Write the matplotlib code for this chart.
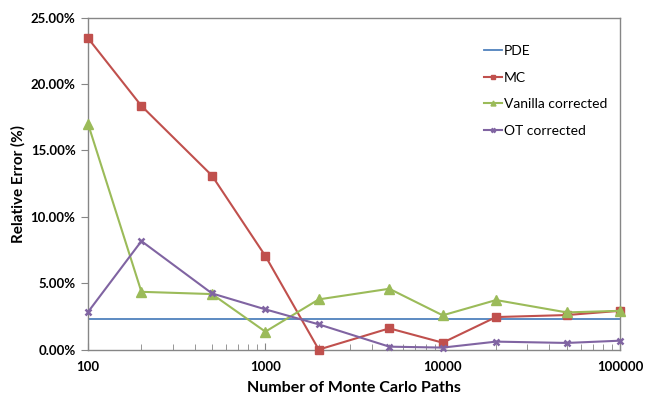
import matplotlib
matplotlib.use("Agg")
import matplotlib.pyplot as plt
from matplotlib.ticker import FuncFormatter, LogLocator, NullFormatter, FixedLocator

plt.rcParams['font.family'] = ['Lato', 'DejaVu Sans']

paths = [100, 200, 500, 1000, 2000, 5000, 10000, 20000, 50000, 100000]
pde = [2.32] * len(paths)
mc = [23.45, 18.35, 13.1, 7.05, 0.0, 1.6, 0.52, 2.45, 2.6, 2.92]
vanilla = [17.0, 4.35, 4.18, 1.35, 3.78, 4.58, 2.58, 3.73, 2.8, 2.92]
ot = [2.83, 8.17, 4.23, 3.03, 1.9, 0.22, 0.15, 0.6, 0.5, 0.67]

labels = ["PDE", "MC", "Vanilla corrected", "OT corrected"]
colors = ["#4F81BD", "#C0504D", "#9BBB59", "#8064A2"]

fig = plt.figure(figsize=(6.53, 3.96), dpi=100)
ax = fig.add_axes([0.1348, 0.1172, 0.8147, 0.8384])

ax.plot(paths, pde, color=colors[0], lw=1.3, label=labels[0], zorder=2)
ax.plot(paths, mc, color=colors[1], lw=1.5, marker='s', ms=6, label=labels[1],
        clip_on=False, zorder=3)
ax.plot(paths, vanilla, color=colors[2], lw=1.5, marker='^', ms=6.5, label=labels[2],
        clip_on=False, zorder=3)
ax.plot(paths, ot, color=colors[3], lw=1.5, marker='x', ms=5, mew=1.8, label=labels[3],
        clip_on=False, zorder=3)

ax.set_xscale('log')
ax.set_xlim(100, 100000)
ax.set_ylim(0, 25)
ax.set_yticks([0, 5, 10, 15, 20, 25])
ax.yaxis.set_major_formatter(FuncFormatter(lambda v, p: f"{v:.2f}%"))
ax.xaxis.set_major_locator(FixedLocator([100, 1000, 10000, 100000]))
ax.xaxis.set_major_formatter(FuncFormatter(lambda v, p: f"{int(round(v))}"))
ax.xaxis.set_minor_locator(LogLocator(base=10, subs=range(2, 10)))
ax.xaxis.set_minor_formatter(NullFormatter())

for s in ax.spines.values():
    s.set_color("#868686")
    s.set_linewidth(1.0)

ax.tick_params(axis='y', direction='out', length=5, color="#868686", labelsize=9.5, pad=4)
ax.tick_params(axis='x', which='major', direction='in', length=5, color="#868686", labelsize=9.5, pad=8)
ax.tick_params(axis='x', which='minor', direction='in', length=4, color="#868686")
for t in ax.get_xticklabels() + ax.get_yticklabels():
    t.set_fontweight('bold')

ax.set_xlabel("Number of Monte Carlo Paths", fontsize=11.5, fontweight='bold', labelpad=6)
ax.set_ylabel("Relative Error (%)", fontsize=11, fontweight='bold', labelpad=4)
ax.yaxis.set_label_coords(-0.118, 0.5)

leg = ax.legend(loc='upper left', bbox_to_anchor=(0.72, 0.955), frameon=False,
                fontsize=10, handlelength=1.3, handletextpad=0.15, labelspacing=1.05,
                markerscale=0.55)

fig.savefig("out.png", dpi=100)
